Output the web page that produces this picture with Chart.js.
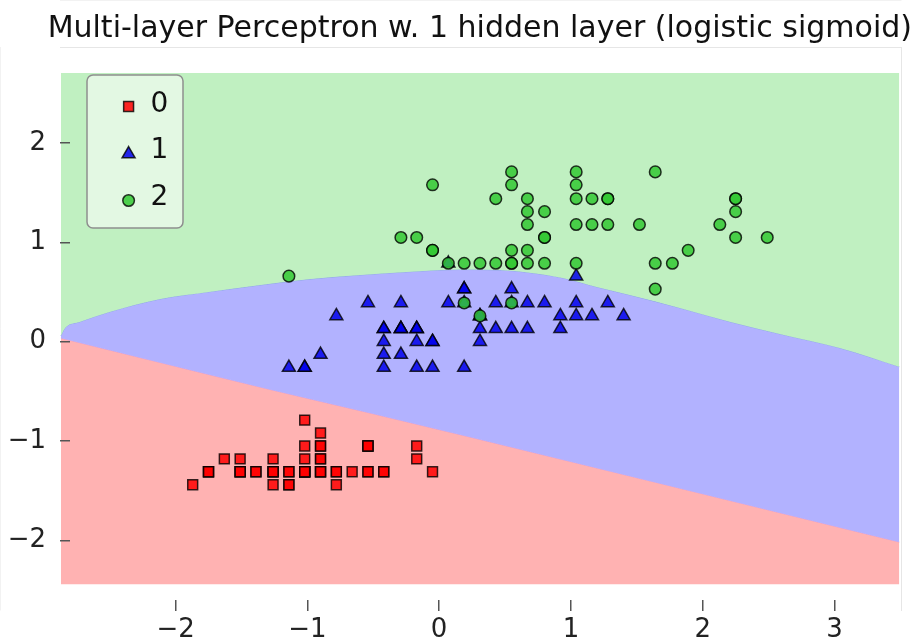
<!DOCTYPE html>
<html>
<head>
<meta charset="utf-8">
<script src="https://cdn.jsdelivr.net/npm/chart.js@4.4.1/dist/chart.umd.min.js"></script>
<style>
  html, body { margin: 0; padding: 0; background: #ffffff; }
  #wrap { width: 916px; height: 643px; }
</style>
</head>
<body>
<div id="wrap"><canvas id="chart" width="916" height="643"></canvas></div>
<script>
// Standardized sepal length (x) and petal width (y), one pair of arrays per class
const class0X = [-0.90,-1.14,-1.39,-1.51,-1.02,-0.54,-1.51,-1.02,-1.75,-1.14,-0.54,-1.26,-1.26,-1.87,-0.05,-0.17,-0.54,-0.90,-0.17,-0.90,-0.54,-0.90,-1.51,-0.90,-1.26,-1.02,-1.02,-0.78,-0.78,-1.39,-1.26,-0.54,-0.78,-0.42,-1.14,-1.02,-0.42,-1.14,-1.75,-0.90,-1.02,-1.63,-1.75,-1.02,-0.90,-1.26,-0.90,-1.51,-0.66,-1.02];
const class0Y = [-1.31,-1.31,-1.31,-1.31,-1.31,-1.05,-1.18,-1.31,-1.31,-1.44,-1.31,-1.31,-1.44,-1.44,-1.31,-1.05,-1.05,-1.18,-1.18,-1.18,-1.31,-1.05,-1.31,-0.92,-1.31,-1.31,-1.05,-1.31,-1.31,-1.31,-1.31,-1.05,-1.44,-1.31,-1.31,-1.31,-1.31,-1.44,-1.31,-1.31,-1.18,-1.18,-1.31,-0.79,-1.05,-1.18,-1.31,-1.31,-1.31,-1.31];

const class1X = [1.40,0.67,1.28,-0.42,0.80,-0.17,0.55,-1.14,0.92,-0.78,-1.02,0.07,0.19,0.31,-0.29,1.04,-0.29,-0.05,0.43,-0.29,0.07,0.31,0.55,0.31,0.67,0.92,1.16,1.04,0.19,-0.17,-0.42,-0.42,-0.05,0.19,-0.54,0.19,1.04,0.55,-0.29,-0.42,-0.42,0.31,-0.05,-1.02,-0.29,-0.17,-0.17,0.43,-0.90,-0.17];
const class1Y = [0.26,0.39,0.39,0.13,0.39,0.13,0.53,-0.26,0.13,0.26,-0.26,0.39,-0.26,0.26,0.13,0.26,0.39,-0.26,0.39,-0.13,0.79,0.13,0.39,0.00,0.13,0.26,0.26,0.66,0.39,-0.26,-0.13,-0.26,0.00,0.53,0.39,0.53,0.39,0.13,0.13,0.13,0.00,0.26,0.00,-0.26,0.13,0.00,0.13,0.13,-0.13,0.13];

const class2X = [0.55,-0.05,1.52,0.55,0.80,2.13,-1.14,1.77,1.04,1.64,0.80,0.67,1.16,-0.17,-0.05,0.67,0.80,2.25,2.25,0.19,1.28,-0.29,2.25,0.55,1.04,1.64,0.43,0.31,0.67,1.64,1.89,2.49,0.67,0.55,0.31,2.25,0.55,0.67,0.19,1.28,1.04,1.28,-0.05,1.16,1.04,1.04,0.55,0.80,0.43,0.07];
const class2Y = [1.71,0.92,1.18,0.79,1.31,1.18,0.66,0.79,0.79,1.71,1.05,0.92,1.18,1.05,1.58,1.44,0.79,1.31,1.44,0.39,1.44,1.05,1.05,0.79,1.18,0.79,0.79,0.79,1.18,0.53,0.92,1.05,1.31,0.39,0.26,1.44,1.58,0.79,0.79,1.18,1.58,1.44,0.92,1.44,1.71,1.44,0.92,1.05,1.44,0.79];

const classLabels = ['0', '1', '2'];

// Axis ticks
const xTickValues = [-2, -1, 0, 1, 2, 3];
const xTickLabels = ['\u22122', '\u22121', '0', '1', '2', '3'];
const yTickValues = [-2, -1, 0, 1, 2];
const yTickLabels = ['\u22122', '\u22121', '0', '1', '2'];

// Extent of the decision-region grid
const gridX = [-2.87, 3.492];
const gridY = [-2.442, 2.706];

// Class 2 / class 1 decision boundary
const upperBoundaryX = [-2.87, -2.839, -2.725, -2.497, -2.118, -1.738, -1.359, -0.980, -0.600, -0.221, 0.159, 0.462, 0.690, 0.940, 1.198, 1.449, 1.828, 2.207, 2.587, 3.042, 3.492];
const upperBoundaryY = [0.06, 0.138, 0.201, 0.302, 0.430, 0.504, 0.571, 0.631, 0.672, 0.705, 0.727, 0.722, 0.695, 0.642, 0.551, 0.470, 0.340, 0.201, 0.078, -0.063, -0.251];

// Class 1 / class 0 decision boundary
const lowerBoundaryX = [-2.87, -2.118, -1.283, -0.524, 0.235, 3.042, 3.492];
const lowerBoundaryY = [0.037, -0.209, -0.481, -0.718, -0.960, -1.871, -2.017];

const toPoints = (xs, ys) => xs.map((x, i) => ({ x: x, y: ys[i] }));

const FONT = 'DejaVu Sans';

const datasets = [
  {
    label: classLabels[0], data: toPoints(class0X, class0Y), order: 3,
    pointStyle: 'rect', pointRadius: 7, pointBorderWidth: 1.5,
    backgroundColor: 'rgba(255,0,0,0.85)', borderColor: 'rgba(0,0,0,0.8)', showLine: false
  },
  {
    label: classLabels[1], data: toPoints(class1X, class1Y), order: 2,
    pointStyle: 'triangle', pointRadius: 7.5, pointBorderWidth: 1.5,
    backgroundColor: 'rgba(0,0,235,0.85)', borderColor: 'rgba(0,0,0,0.8)', showLine: false
  },
  {
    label: classLabels[2], data: toPoints(class2X, class2Y), order: 1,
    pointStyle: 'circle', pointRadius: 5.8, pointBorderWidth: 1.5,
    backgroundColor: 'rgba(50,200,50,0.85)', borderColor: 'rgba(0,0,0,0.8)', showLine: false
  },
  {
    label: 'region 2', data: [{ x: gridX[0], y: gridY[1] }, { x: gridX[1], y: gridY[1] }], order: 10,
    showLine: true, pointRadius: 0, borderWidth: 0, borderColor: 'transparent',
    backgroundColor: 'rgb(192,240,193)', fill: '+1'
  },
  {
    label: 'region 1', data: toPoints(upperBoundaryX, upperBoundaryY), order: 11,
    showLine: true, pointRadius: 0, borderWidth: 1, borderColor: 'rgba(130,170,215,0.8)',
    cubicInterpolationMode: 'monotone',
    backgroundColor: 'rgb(178,178,255)', fill: '+1'
  },
  {
    label: 'region 0', data: toPoints(lowerBoundaryX, lowerBoundaryY), order: 12,
    showLine: true, pointRadius: 0, borderWidth: 1, borderColor: 'rgba(205,150,225,0.8)',
    cubicInterpolationMode: 'monotone',
    backgroundColor: 'rgb(255,178,178)', fill: '+1'
  },
  {
    label: 'grid floor', data: [{ x: gridX[0], y: gridY[0] }, { x: gridX[1], y: gridY[0] }], order: 13,
    showLine: true, pointRadius: 0, borderWidth: 0, borderColor: 'transparent', fill: false
  }
];

// Legend box drawn inside the plot area, using each class dataset's marker style
const legendBox = {
  id: 'legendBox',
  afterDatasetsDraw(chart) {
    const { ctx, chartArea } = chart;
    const left = chartArea.left + 27, top = chartArea.top + 28, w = 96, h = 153;
    const markerRows = [31.5, 79, 125.5];
    const textRows = [29.5, 75.5, 123];
    ctx.save();
    ctx.beginPath();
    ctx.roundRect(left, top, w, h, 6);
    ctx.fillStyle = 'rgba(255,255,255,0.55)';
    ctx.fill();
    ctx.lineWidth = 1.5;
    ctx.strokeStyle = '#8e8e8e';
    ctx.stroke();
    for (let i = 0; i < 3; i++) {
      const ds = chart.data.datasets[i];
      ctx.fillStyle = ds.backgroundColor;
      ctx.strokeStyle = ds.borderColor;
      ctx.lineWidth = ds.pointBorderWidth;
      Chart.helpers.drawPoint(ctx, {
        pointStyle: ds.pointStyle, radius: ds.pointRadius, rotation: 0, borderWidth: ds.pointBorderWidth
      }, left + 41.6, top + markerRows[i]);
      ctx.fillStyle = '#111111';
      ctx.font = '28px "' + FONT + '"';
      ctx.textAlign = 'left';
      ctx.textBaseline = 'middle';
      ctx.fillText(ds.label, left + 63.5, top + textRows[i]);
    }
    ctx.restore();
  }
};

const frameColor = '#e6e6e6';

// Tick labels sit well inside the axis range, so no extra end padding is needed
const noEndPadding = (s) => { s.paddingTop = 0; s.paddingBottom = 0; s.paddingLeft = 0; s.paddingRight = 0; };

new Chart(document.getElementById('chart'), {
  type: 'scatter',
  data: { datasets: datasets },
  plugins: [legendBox],
  options: {
    responsive: false,
    animation: false,
    events: [],
    layout: { padding: { left: 0, right: 4, top: 0, bottom: 0 } },
    plugins: {
      legend: { display: false },
      tooltip: { enabled: false },
      title: {
        display: true,
        text: 'Multi-layer Perceptron w. 1 hidden layer (logistic sigmoid)',
        align: 'end',
        color: '#111111',
        font: { family: FONT, size: 30, weight: 'normal', lineHeight: 1.2 },
        padding: { top: 11, bottom: 0 }
      }
    },
    scales: {
      x: {
        type: 'linear', position: 'bottom', min: -2.877, max: 3.505,
        afterBuildTicks: (s) => { s.ticks = xTickValues.map(v => ({ value: v })); },
        afterFit: (s) => { s.height = 33; noEndPadding(s); },
        grid: { drawOnChartArea: false, drawTicks: true, tickLength: -10, color: '#555555', lineWidth: 1.5, z: 1 },
        border: { display: true, color: frameColor, width: 1 },
        ticks: {
          autoSkip: false, maxRotation: 0, padding: 15, color: '#222222',
          font: { family: FONT, size: 26 },
          callback: (v) => { const i = xTickValues.indexOf(v); return i >= 0 ? xTickLabels[i] : ''; }
        }
      },
      y: {
        type: 'linear', position: 'left', min: -2.702, max: 2.968,
        afterBuildTicks: (s) => { s.ticks = yTickValues.map(v => ({ value: v })); },
        afterFit: (s) => { s.width = 60; noEndPadding(s); },
        grid: { drawOnChartArea: false, drawTicks: true, tickLength: -10, color: '#555555', lineWidth: 1.5, z: 1 },
        border: { display: true, color: frameColor, width: 1 },
        ticks: {
          autoSkip: false, padding: 24, color: '#222222',
          font: { family: FONT, size: 26 },
          callback: (v) => { const i = yTickValues.indexOf(v); return i >= 0 ? yTickLabels[i] : ''; }
        }
      },
      x2: {
        type: 'linear', position: 'top', min: -2.877, max: 3.505,
        afterFit: (s) => { s.height = 0; noEndPadding(s); },
        grid: { drawOnChartArea: false, drawTicks: false },
        border: { display: true, color: frameColor, width: 1 },
        ticks: { display: false }
      },
      y2: {
        type: 'linear', position: 'right', min: -2.702, max: 2.968,
        afterFit: (s) => { s.width = 11; noEndPadding(s); },
        grid: { drawOnChartArea: false, drawTicks: false },
        border: { display: true, color: frameColor, width: 1 },
        ticks: { display: false }
      }
    }
  }
});
</script>
</body>
</html>
